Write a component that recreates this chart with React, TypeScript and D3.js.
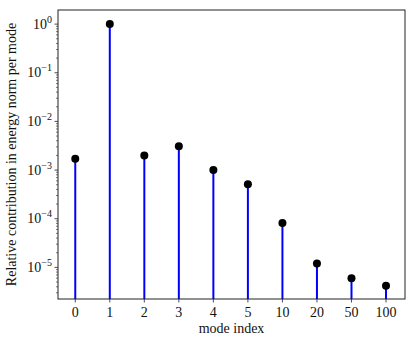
import * as d3 from 'd3';
import React from 'react';

const modes = ['0', '1', '2', '3', '4', '5', '10', '20', '50', '100'];
const contributions = [1.7e-3, 1.0, 2.0e-3, 3.1e-3, 1.0e-3, 5.1e-4, 8.2e-5, 1.2e-5, 6.0e-6, 4.2e-6];
const yTickExps = [0, -1, -2, -3, -4, -5];

const W = 415;
const H = 343;
const m = { left: 58, right: 10, top: 10, bottom: 44 };
const FONT = '"Liberation Serif", "DejaVu Serif", serif';

const App = () => {
  const x = d3
    .scaleLinear()
    .domain([-0.5, modes.length - 0.45])
    .range([m.left, W - m.right]);
  const y = d3
    .scaleLog()
    .domain([10 ** -5.65, 10 ** 0.29])
    .range([H - m.bottom, m.top]);

  const bottom = H - m.bottom;
  const minor: number[] = [];
  for (let e = -6; e <= 0; e++) {
    for (let k = 2; k <= 9; k++) {
      const v = k * 10 ** e;
      if (v >= y.domain()[0] && v <= y.domain()[1]) minor.push(v);
    }
  }

  return (
    <svg width={W} height={H} style={{ position: 'absolute', left: 0, top: 0 }}>
      <rect width={W} height={H} fill="white" />
      {contributions.map((v, i) => (
        <line
          key={'s' + i}
          x1={x(i)}
          x2={x(i)}
          y1={bottom}
          y2={y(v)}
          stroke="#0000ff"
          strokeWidth={2}
        />
      ))}
      {contributions.map((v, i) => (
        <circle key={'c' + i} cx={x(i)} cy={y(v)} r={4} fill="black" />
      ))}
      <rect
        x={m.left}
        y={m.top}
        width={W - m.left - m.right}
        height={H - m.top - m.bottom}
        fill="none"
        stroke="#222"
        strokeWidth={1}
      />
      {minor.map((v, i) => (
        <line key={'m' + i} x1={m.left} x2={m.left - 2} y1={y(v)} y2={y(v)} stroke="#222" strokeWidth={0.6} />
      ))}
      {yTickExps.map((e) => (
        <g key={'y' + e} transform={`translate(0,${y(10 ** e)})`}>
          <line x1={m.left} x2={m.left - 3.5} stroke="#222" strokeWidth={0.8} />
          <text
            x={m.left - 6}
            y={4.5}
            textAnchor="end"
            fontFamily={FONT}
            fontSize={14}
            fill="#111"
          >
            10
            <tspan dy={-6} fontSize={10}>
              {e === 0 ? '0' : '\u2212' + -e}
            </tspan>
          </text>
        </g>
      ))}
      {modes.map((d, i) => (
        <g key={'x' + i} transform={`translate(${x(i)},${bottom})`}>
          <line y1={0} y2={3.5} stroke="#222" strokeWidth={0.8} />
          <text y={18} textAnchor="middle" fontFamily={FONT} fontSize={14} fill="#111">
            {d}
          </text>
        </g>
      ))}
      <text
        x={(m.left + W - m.right) / 2}
        y={333}
        textAnchor="middle"
        fontFamily={FONT}
        fontSize={14}
        fill="#111"
      >
        mode index
      </text>
      <text
        transform={`translate(16,${(m.top + bottom) / 2}) rotate(-90)`}
        textAnchor="middle"
        fontFamily={FONT}
        fontSize={14}
        fill="#111"
      >
        Relative contribution in energy norm per mode
      </text>
    </svg>
  );
};

export default App;
